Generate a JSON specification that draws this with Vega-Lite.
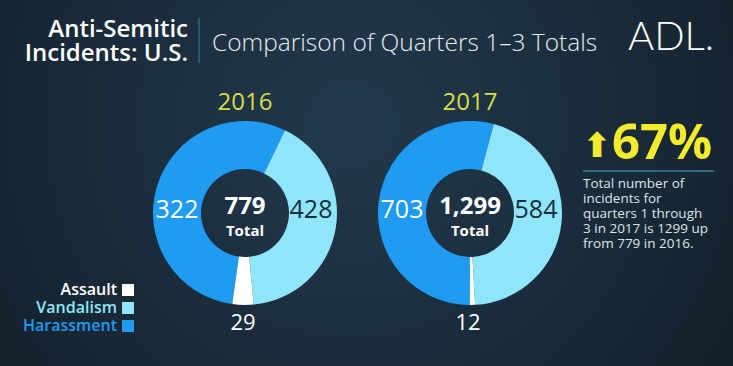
{
  "$schema": "https://vega.github.io/schema/vega-lite/v6.json",
  "width": 733,
  "height": 366,
  "autosize": {"type": "none"},
  "padding": 0,
  "background": "#121d27",
  "config": {
    "view": {"stroke": null, "fill": {"gradient": "radial", "x1": 0.48, "y1": 0.42, "r1": 0, "x2": 0.48, "y2": 0.42, "r2": 0.75, "stops": [{"offset": 0, "color": "#223a4e"}, {"offset": 1, "color": "#101a23"}]}},
    "text": {"font": "Open Sans"},
    "arc": {"outerRadius": 92, "innerRadius": 44}
  },
  "data": {"values": [
    {"year": 2016, "type": "Harassment", "count": 322, "drawn": 428},
    {"year": 2016, "type": "Vandalism", "count": 428, "drawn": 322},
    {"year": 2016, "type": "Assault", "count": 29, "drawn": 29},
    {"year": 2017, "type": "Harassment", "count": 703, "drawn": 703},
    {"year": 2017, "type": "Vandalism", "count": 584, "drawn": 584},
    {"year": 2017, "type": "Assault", "count": 12, "drawn": 12}
  ]},
  "layer": [
    {
      "transform": [
        {"stack": "drawn", "groupby": ["year"], "offset": "normalize", "sort": [{"field": "type", "order": "ascending"}], "as": ["t0", "t1"]},
        {"filter": "datum.year == 2016 && datum.type == 'Harassment'"}
      ],
      "mark": {"type": "arc"},
      "encoding": {
        "x": {"field": "year", "type": "quantitative", "scale": {"domain": [2014.9111, 2018.1689], "nice": false, "zero": false}, "axis": null},
        "y": {"datum": 213, "type": "quantitative", "scale": {"domain": [0, 366], "reverse": true, "nice": false, "zero": false}, "axis": null},
        "theta": {"field": "t0", "type": "quantitative", "stack": null, "scale": {"domain": [0, 1], "range": [-3.2362, 3.0470], "nice": false}},
        "theta2": {"field": "t1"},
        "color": {"field": "type", "type": "nominal", "scale": {"domain": ["Assault", "Vandalism", "Harassment"], "range": ["#ffffff", "#8fe6fb", "#1f9bf1"]},
          "legend": {"orient": "none", "legendX": 120, "legendY": 282, "title": null, "symbolType": "square", "symbolSize": 144, "symbolStrokeWidth": 0, "symbolOpacity": 1, "labelAlign": "right", "labelOffset": -19, "labelFontSize": 16, "labelFont": "Open Sans", "labelFontWeight": 600, "rowPadding": 2, "values": ["Assault", "Vandalism", "Harassment"],
            "encode": {"labels": {"update": {"fill": {"scale": "color", "field": "value"}}}}}}
      }
    },
    {
      "transform": [
        {"stack": "drawn", "groupby": ["year"], "offset": "normalize", "sort": [{"field": "type", "order": "ascending"}], "as": ["t0", "t1"]},
        {"filter": "datum.year == 2016 && datum.type == 'Vandalism'"}
      ],
      "mark": {"type": "arc"},
      "encoding": {
        "x": {"field": "year", "type": "quantitative", "scale": {"domain": [2014.9111, 2018.1689], "nice": false, "zero": false}, "axis": null},
        "y": {"datum": 213, "type": "quantitative", "scale": {"domain": [0, 366], "reverse": true, "nice": false, "zero": false}, "axis": null},
        "theta": {"field": "t0", "type": "quantitative", "stack": null, "scale": {"domain": [0, 1], "range": [-3.2362, 3.0470], "nice": false}},
        "theta2": {"field": "t1"},
        "color": {"field": "type", "type": "nominal", "scale": {"domain": ["Assault", "Vandalism", "Harassment"], "range": ["#ffffff", "#8fe6fb", "#1f9bf1"]},
          "legend": {"orient": "none", "legendX": 120, "legendY": 282, "title": null, "symbolType": "square", "symbolSize": 144, "symbolStrokeWidth": 0, "symbolOpacity": 1, "labelAlign": "right", "labelOffset": -19, "labelFontSize": 16, "labelFont": "Open Sans", "labelFontWeight": 600, "rowPadding": 2, "values": ["Assault", "Vandalism", "Harassment"],
            "encode": {"labels": {"update": {"fill": {"scale": "color", "field": "value"}}}}}}
      }
    },
    {
      "transform": [
        {"stack": "drawn", "groupby": ["year"], "offset": "normalize", "sort": [{"field": "type", "order": "ascending"}], "as": ["t0", "t1"]},
        {"filter": "datum.year == 2016 && datum.type == 'Assault'"}
      ],
      "mark": {"type": "arc"},
      "encoding": {
        "x": {"field": "year", "type": "quantitative", "scale": {"domain": [2014.9111, 2018.1689], "nice": false, "zero": false}, "axis": null},
        "y": {"datum": 213, "type": "quantitative", "scale": {"domain": [0, 366], "reverse": true, "nice": false, "zero": false}, "axis": null},
        "theta": {"field": "t0", "type": "quantitative", "stack": null, "scale": {"domain": [0, 1], "range": [-3.2362, 3.0470], "nice": false}},
        "theta2": {"field": "t1"},
        "color": {"field": "type", "type": "nominal", "scale": {"domain": ["Assault", "Vandalism", "Harassment"], "range": ["#ffffff", "#8fe6fb", "#1f9bf1"]},
          "legend": {"orient": "none", "legendX": 120, "legendY": 282, "title": null, "symbolType": "square", "symbolSize": 144, "symbolStrokeWidth": 0, "symbolOpacity": 1, "labelAlign": "right", "labelOffset": -19, "labelFontSize": 16, "labelFont": "Open Sans", "labelFontWeight": 600, "rowPadding": 2, "values": ["Assault", "Vandalism", "Harassment"],
            "encode": {"labels": {"update": {"fill": {"scale": "color", "field": "value"}}}}}}
      }
    },
    {
      "transform": [
        {"stack": "drawn", "groupby": ["year"], "offset": "normalize", "sort": [{"field": "type", "order": "ascending"}], "as": ["t0", "t1"]},
        {"filter": "datum.year == 2017 && datum.type == 'Harassment'"}
      ],
      "mark": {"type": "arc"},
      "encoding": {
        "x": {"field": "year", "type": "quantitative", "scale": {"domain": [2014.9111, 2018.1689], "nice": false, "zero": false}, "axis": null},
        "y": {"datum": 213, "type": "quantitative", "scale": {"domain": [0, 366], "reverse": true, "nice": false, "zero": false}, "axis": null},
        "theta": {"field": "t0", "type": "quantitative", "stack": null, "scale": {"domain": [0, 1], "range": [-3.1972, 3.0860], "nice": false}},
        "theta2": {"field": "t1"},
        "color": {"field": "type", "type": "nominal", "scale": {"domain": ["Assault", "Vandalism", "Harassment"], "range": ["#ffffff", "#8fe6fb", "#1f9bf1"]},
          "legend": {"orient": "none", "legendX": 120, "legendY": 282, "title": null, "symbolType": "square", "symbolSize": 144, "symbolStrokeWidth": 0, "symbolOpacity": 1, "labelAlign": "right", "labelOffset": -19, "labelFontSize": 16, "labelFont": "Open Sans", "labelFontWeight": 600, "rowPadding": 2, "values": ["Assault", "Vandalism", "Harassment"],
            "encode": {"labels": {"update": {"fill": {"scale": "color", "field": "value"}}}}}}
      }
    },
    {
      "transform": [
        {"stack": "drawn", "groupby": ["year"], "offset": "normalize", "sort": [{"field": "type", "order": "ascending"}], "as": ["t0", "t1"]},
        {"filter": "datum.year == 2017 && datum.type == 'Vandalism'"}
      ],
      "mark": {"type": "arc"},
      "encoding": {
        "x": {"field": "year", "type": "quantitative", "scale": {"domain": [2014.9111, 2018.1689], "nice": false, "zero": false}, "axis": null},
        "y": {"datum": 213, "type": "quantitative", "scale": {"domain": [0, 366], "reverse": true, "nice": false, "zero": false}, "axis": null},
        "theta": {"field": "t0", "type": "quantitative", "stack": null, "scale": {"domain": [0, 1], "range": [-3.1972, 3.0860], "nice": false}},
        "theta2": {"field": "t1"},
        "color": {"field": "type", "type": "nominal", "scale": {"domain": ["Assault", "Vandalism", "Harassment"], "range": ["#ffffff", "#8fe6fb", "#1f9bf1"]},
          "legend": {"orient": "none", "legendX": 120, "legendY": 282, "title": null, "symbolType": "square", "symbolSize": 144, "symbolStrokeWidth": 0, "symbolOpacity": 1, "labelAlign": "right", "labelOffset": -19, "labelFontSize": 16, "labelFont": "Open Sans", "labelFontWeight": 600, "rowPadding": 2, "values": ["Assault", "Vandalism", "Harassment"],
            "encode": {"labels": {"update": {"fill": {"scale": "color", "field": "value"}}}}}}
      }
    },
    {
      "transform": [
        {"stack": "drawn", "groupby": ["year"], "offset": "normalize", "sort": [{"field": "type", "order": "ascending"}], "as": ["t0", "t1"]},
        {"filter": "datum.year == 2017 && datum.type == 'Assault'"}
      ],
      "mark": {"type": "arc"},
      "encoding": {
        "x": {"field": "year", "type": "quantitative", "scale": {"domain": [2014.9111, 2018.1689], "nice": false, "zero": false}, "axis": null},
        "y": {"datum": 213, "type": "quantitative", "scale": {"domain": [0, 366], "reverse": true, "nice": false, "zero": false}, "axis": null},
        "theta": {"field": "t0", "type": "quantitative", "stack": null, "scale": {"domain": [0, 1], "range": [-3.1972, 3.0860], "nice": false}},
        "theta2": {"field": "t1"},
        "color": {"field": "type", "type": "nominal", "scale": {"domain": ["Assault", "Vandalism", "Harassment"], "range": ["#ffffff", "#8fe6fb", "#1f9bf1"]},
          "legend": {"orient": "none", "legendX": 120, "legendY": 282, "title": null, "symbolType": "square", "symbolSize": 144, "symbolStrokeWidth": 0, "symbolOpacity": 1, "labelAlign": "right", "labelOffset": -19, "labelFontSize": 16, "labelFont": "Open Sans", "labelFontWeight": 600, "rowPadding": 2, "values": ["Assault", "Vandalism", "Harassment"],
            "encode": {"labels": {"update": {"fill": {"scale": "color", "field": "value"}}}}}}
      }
    },
    {
      "transform": [{"filter": "datum.type == 'Harassment'"}],
      "mark": {"type": "text", "dx": -68, "fontSize": 25, "color": "#ffffff", "align": "center", "baseline": "alphabetic"},
      "encoding": {
        "x": {"field": "year", "type": "quantitative", "scale": {"domain": [2014.9111, 2018.1689], "nice": false, "zero": false}, "axis": null},
        "y": {"datum": 218, "type": "quantitative", "scale": {"domain": [0, 366], "reverse": true, "nice": false, "zero": false}, "axis": null},
        "text": {"field": "count", "type": "quantitative"}
      }
    },
    {
      "transform": [{"filter": "datum.type == 'Vandalism'"}],
      "mark": {"type": "text", "dx": 66, "fontSize": 25, "color": "#1b2d3b", "align": "center", "baseline": "alphabetic"},
      "encoding": {
        "x": {"field": "year", "type": "quantitative", "scale": {"domain": [2014.9111, 2018.1689], "nice": false, "zero": false}, "axis": null},
        "y": {"datum": 218, "type": "quantitative", "scale": {"domain": [0, 366], "reverse": true, "nice": false, "zero": false}, "axis": null},
        "text": {"field": "count", "type": "quantitative"}
      }
    },
    {
      "transform": [{"filter": "datum.type == 'Assault'"}],
      "mark": {"type": "text", "dx": -2, "fontSize": 22, "color": "#ffffff", "align": "center", "baseline": "alphabetic"},
      "encoding": {
        "x": {"field": "year", "type": "quantitative", "scale": {"domain": [2014.9111, 2018.1689], "nice": false, "zero": false}, "axis": null},
        "y": {"datum": 330, "type": "quantitative", "scale": {"domain": [0, 366], "reverse": true, "nice": false, "zero": false}, "axis": null},
        "text": {"field": "count", "type": "quantitative"}
      }
    },
    {
      "transform": [{"aggregate": [{"op": "sum", "field": "count", "as": "total"}], "groupby": ["year"]}],
      "mark": {"type": "text", "fontSize": 24, "fontWeight": "bold", "color": "#ffffff", "align": "center", "baseline": "alphabetic"},
      "encoding": {
        "x": {"field": "year", "type": "quantitative", "scale": {"domain": [2014.9111, 2018.1689], "nice": false, "zero": false}, "axis": null},
        "y": {"datum": 214, "type": "quantitative", "scale": {"domain": [0, 366], "reverse": true, "nice": false, "zero": false}, "axis": null},
        "text": {"field": "total", "type": "quantitative", "format": ","}
      }
    },
    {
      "transform": [{"aggregate": [{"op": "count", "as": "n"}], "groupby": ["year"]}],
      "mark": {"type": "text", "fontSize": 15, "fontWeight": "bold", "color": "#ffffff", "align": "center", "baseline": "alphabetic"},
      "encoding": {
        "x": {"field": "year", "type": "quantitative", "scale": {"domain": [2014.9111, 2018.1689], "nice": false, "zero": false}, "axis": null},
        "y": {"datum": 236, "type": "quantitative", "scale": {"domain": [0, 366], "reverse": true, "nice": false, "zero": false}, "axis": null},
        "text": {"value": "Total"}
      }
    },
    {
      "transform": [{"aggregate": [{"op": "count", "as": "n"}], "groupby": ["year"]}],
      "mark": {"type": "text", "fontSize": 24, "color": "#d6dd45", "align": "center", "baseline": "alphabetic"},
      "encoding": {
        "x": {"field": "year", "type": "quantitative", "scale": {"domain": [2014.9111, 2018.1689], "nice": false, "zero": false}, "axis": null},
        "y": {"datum": 110, "type": "quantitative", "scale": {"domain": [0, 366], "reverse": true, "nice": false, "zero": false}, "axis": null},
        "text": {"field": "year", "type": "nominal"}
      }
    },
    {
      "data": {"values": [{}]},
      "mark": {"type": "text", "fontSize": 24, "fontWeight": 600, "color": "#ffffff", "align": "right", "baseline": "alphabetic", "lineHeight": 24},
      "encoding": {
        "x": {"datum": 2015.7467, "type": "quantitative", "scale": {"domain": [2014.9111, 2018.1689], "nice": false, "zero": false}, "axis": null},
        "y": {"datum": 37, "type": "quantitative", "scale": {"domain": [0, 366], "reverse": true, "nice": false, "zero": false}, "axis": null},
        "text": {"value": ["Anti-Semitic", "Incidents: U.S."]}
      }
    },
    {
      "data": {"values": [{}]},
      "mark": {"type": "rule", "color": "#2d6a85", "strokeWidth": 1.5},
      "encoding": {
        "x": {"datum": 2015.7956, "type": "quantitative", "scale": {"domain": [2014.9111, 2018.1689], "nice": false, "zero": false}, "axis": null},
        "y": {"datum": 18, "type": "quantitative", "scale": {"domain": [0, 366], "reverse": true, "nice": false, "zero": false}, "axis": null},
        "y2": {"datum": 63}
      }
    },
    {
      "data": {"values": [{}]},
      "mark": {"type": "text", "fontSize": 24.5, "fontWeight": 300, "color": "#e8edf0", "align": "left", "baseline": "alphabetic"},
      "encoding": {
        "x": {"datum": 2015.8533, "type": "quantitative", "scale": {"domain": [2014.9111, 2018.1689], "nice": false, "zero": false}, "axis": null},
        "y": {"datum": 51, "type": "quantitative", "scale": {"domain": [0, 366], "reverse": true, "nice": false, "zero": false}, "axis": null},
        "text": {"value": "Comparison of Quarters 1–3 Totals"}
      }
    },
    {
      "data": {"values": [{}]},
      "mark": {"type": "text", "fontSize": 40, "fontWeight": 300, "font": "Lato", "color": "#ffffff", "align": "left", "baseline": "alphabetic"},
      "encoding": {
        "x": {"datum": 2017.7022, "type": "quantitative", "scale": {"domain": [2014.9111, 2018.1689], "nice": false, "zero": false}, "axis": null},
        "y": {"datum": 50, "type": "quantitative", "scale": {"domain": [0, 366], "reverse": true, "nice": false, "zero": false}, "axis": null},
        "text": {"value": "ADL."}
      }
    },
    {
      "data": {"values": [{}]},
      "mark": {"type": "text", "fontSize": 34, "fontWeight": "bold", "font": "DejaVu Sans", "color": "#f3eb2b", "align": "center", "baseline": "alphabetic"},
      "encoding": {
        "x": {"datum": 2017.5644, "type": "quantitative", "scale": {"domain": [2014.9111, 2018.1689], "nice": false, "zero": false}, "axis": null},
        "y": {"datum": 157, "type": "quantitative", "scale": {"domain": [0, 366], "reverse": true, "nice": false, "zero": false}, "axis": null},
        "text": {"value": "⬆"}
      }
    },
    {
      "data": {"values": [{}]},
      "mark": {"type": "text", "fontSize": 49, "fontWeight": "bold", "color": "#f3eb2b", "align": "left", "baseline": "alphabetic"},
      "encoding": {
        "x": {"datum": 2017.6311, "type": "quantitative", "scale": {"domain": [2014.9111, 2018.1689], "nice": false, "zero": false}, "axis": null},
        "y": {"datum": 159, "type": "quantitative", "scale": {"domain": [0, 366], "reverse": true, "nice": false, "zero": false}, "axis": null},
        "text": {"value": "67%"}
      }
    },
    {
      "data": {"values": [{}]},
      "mark": {"type": "rule", "color": "#2c6b87", "strokeWidth": 2},
      "encoding": {
        "x": {"datum": 2017.5022, "type": "quantitative", "scale": {"domain": [2014.9111, 2018.1689], "nice": false, "zero": false}, "axis": null},
        "x2": {"datum": 2018.0844},
        "y": {"datum": 171, "type": "quantitative", "scale": {"domain": [0, 366], "reverse": true, "nice": false, "zero": false}, "axis": null}
      }
    },
    {
      "data": {"values": [{}]},
      "mark": {"type": "text", "fontSize": 13.5, "color": "#dfe5e8", "align": "left", "baseline": "alphabetic", "lineHeight": 15},
      "encoding": {
        "x": {"datum": 2017.5022, "type": "quantitative", "scale": {"domain": [2014.9111, 2018.1689], "nice": false, "zero": false}, "axis": null},
        "y": {"datum": 188, "type": "quantitative", "scale": {"domain": [0, 366], "reverse": true, "nice": false, "zero": false}, "axis": null},
        "text": {"value": ["Total number of", "incidents for", "quarters 1 through", "3 in 2017 is 1299 up", "from 779 in 2016."]}
      }
    }
  ],
  "resolve": {"scale": {"theta": "independent"}}
}
